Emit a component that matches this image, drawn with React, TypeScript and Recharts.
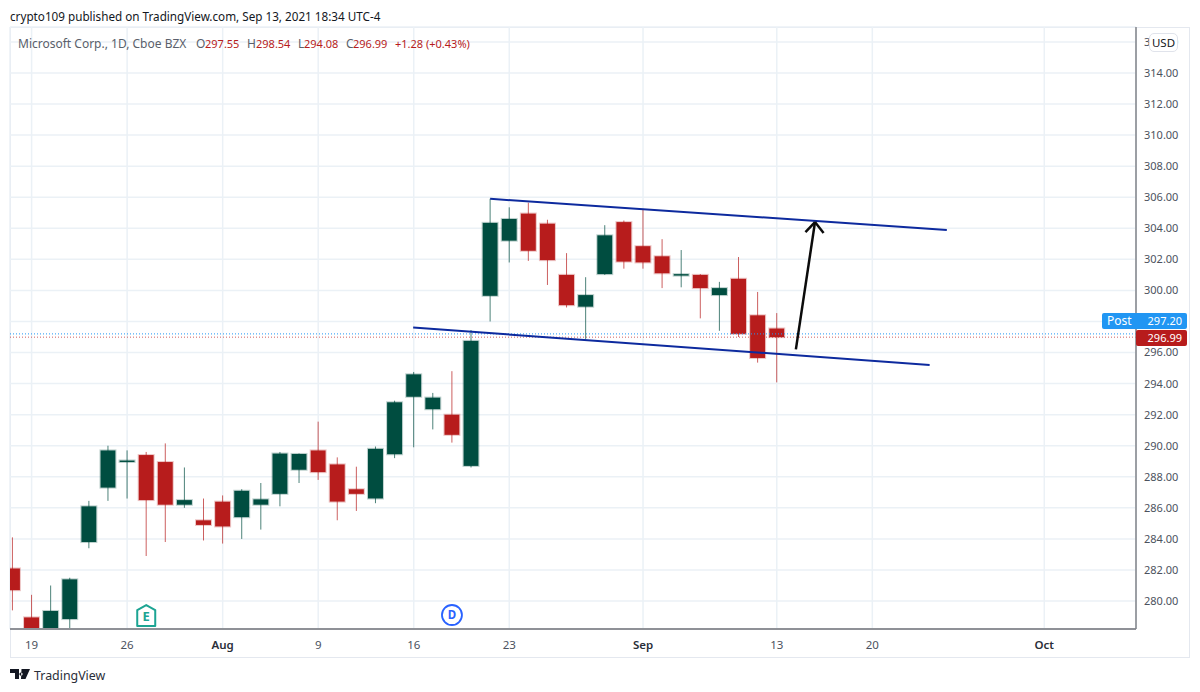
import { ComposedChart, Bar, XAxis, YAxis, CartesianGrid, ReferenceLine, ReferenceDot } from 'recharts';

const dates = ['Jul16','Jul19','Jul20','Jul21','Jul22','Jul23','Jul26','Jul27','Jul28','Jul29','Jul30','Aug2','Aug3','Aug4','Aug5','Aug6','Aug9','Aug10','Aug11','Aug12','Aug13','Aug16','Aug17','Aug18','Aug19','Aug20','Aug23','Aug24','Aug25','Aug26','Aug27','Aug30','Aug31','Sep1','Sep2','Sep3','Sep7','Sep8','Sep9','Sep10','Sep13'];
const opens = [282.1,278.95,277.9,278.84,283.8,287.3,289.0,289.4,288.95,286.2,285.2,286.4,285.4,286.2,286.9,288.45,289.7,288.8,287.2,286.6,289.45,293.15,292.35,292.0,288.7,299.65,303.2,304.95,304.3,301.0,298.95,301.05,304.4,302.85,302.2,300.95,301.0,299.7,300.75,298.4,297.55];
const highs = [284.1,280.4,281.0,281.5,286.45,290.0,289.7,289.6,290.15,288.6,286.6,286.8,287.2,287.6,289.6,289.5,291.55,289.25,288.65,289.95,292.9,294.75,293.4,294.8,297.45,305.9,305.35,305.65,304.55,302.4,300.85,304.2,304.5,305.2,303.3,302.6,301.05,300.55,302.15,299.9,298.54];
const lows = [279.4,277.5,277.4,278.0,283.4,286.45,286.6,282.9,283.8,286.0,283.9,283.7,284.0,284.6,286.1,287.6,287.8,285.2,285.8,286.3,289.2,289.9,291.05,290.2,288.6,298.0,301.8,301.9,300.35,298.9,296.85,301.0,301.4,301.4,300.15,300.2,298.2,297.4,297.0,295.35,294.08];
const closes = [280.7,278.1,279.36,281.4,286.1,289.7,289.05,286.5,286.2,286.5,284.9,284.8,287.1,286.55,289.5,289.47,288.3,286.4,286.9,289.8,292.8,294.6,293.1,290.7,296.75,304.35,304.6,302.55,301.95,299.05,299.7,303.55,301.85,301.8,301.1,301.05,300.15,300.15,297.2,295.65,296.99];

const priceTicks = [280,282,284,286,288,290,292,294,296,298,300,302,304,306,308,310,312,314,316];
const dateTickIndexes = [1,6,11,16,21,26,33,40,45,54];
const dateTickLabels = ['19','26','Aug','9','16','23','Sep','13','20','Oct'];
const boldTickLabels = ['Aug','Sep','Oct'];

const upperChannel = [{ x: 25, y: 305.9 }, { x: 48.9, y: 303.89 }];
const lowerChannel = [{ x: 20.97, y: 297.61 }, { x: 48.0, y: 295.2 }];
const arrowShaft = [{ x: 41.0, y: 296.2 }, { x: 42.0, y: 304.4 }];
const arrowHeadLeft = [{ x: 41.5, y: 303.76 }, { x: 42.0, y: 304.4 }];
const arrowHeadRight = [{ x: 42.45, y: 303.7 }, { x: 42.0, y: 304.4 }];

const lastClose = 296.99;
const postPrice = 297.2;
const earningsIndex = 7;
const dividendIndex = 23;
const eventPrice = 279.1;

const UP = '#004d40';
const DOWN = '#b71c1c';
const FONT = '"Noto Sans", sans-serif';

const candles = dates.map((date, i) => ({
  date,
  index: i,
  open: opens[i],
  high: highs[i],
  low: lows[i],
  close: closes[i],
  range: [lows[i], highs[i]],
}));

const Candle = (props: any) => {
  const { x, y, width, height, payload } = props;
  const k = height / (payload.high - payload.low);
  const top = y + (payload.high - Math.max(payload.open, payload.close)) * k;
  const bottom = y + (payload.high - Math.min(payload.open, payload.close)) * k;
  const color = payload.close >= payload.open ? UP : DOWN;
  const cx = x + width / 2;
  return (
    <g>
      <line x1={cx} x2={cx} y1={y} y2={y + height} stroke={color} strokeWidth={1} strokeOpacity={0.7} />
      <rect x={x - 0.5} y={top - 0.5} width={width + 1} height={Math.max(bottom - top, 1.5) + 1} fill="none" stroke={color} strokeOpacity={0.25} />
      <rect x={x} y={top} width={width} height={Math.max(bottom - top, 1.5)} fill={color} />
    </g>
  );
};

const DateTick = ({ x, y, payload }: any) => {
  const label = dateTickLabels[dateTickIndexes.indexOf(payload.value)];
  const bold = boldTickLabels.includes(label);
  return (
    <text x={x} y={y + 11.5} textAnchor="middle" fontFamily={FONT} fontSize={11.5} fontWeight={bold ? 600 : 400} fill={bold ? '#2a2e39' : '#4c525e'}>
      {label}
    </text>
  );
};

const EarningsMark = ({ cx, cy }: any) => (
  <g>
    <path d={`M${cx - 9} ${cy - 5} L${cx} ${cy - 10} L${cx + 9} ${cy - 5} L${cx + 9} ${cy + 11} L${cx - 9} ${cy + 11} Z`} fill="#fff" stroke="#1ca493" strokeWidth={2} strokeLinejoin="round" />
    <text x={cx} y={cy + 6} textAnchor="middle" fontFamily={FONT} fontSize={13} fontWeight={700} fill="#1ca493">E</text>
  </g>
);

const DividendMark = ({ cx, cy }: any) => (
  <g>
    <circle cx={cx} cy={cy} r={10} fill="#fff" stroke="#2962ff" strokeWidth={1.8} />
    <text x={cx} y={cy + 4} textAnchor="middle" fontFamily={FONT} fontSize={11.5} fontWeight={700} fill="#2962ff">D</text>
  </g>
);

const legendStyle = { position: 'absolute', top: 35, fontSize: 11, whiteSpace: 'nowrap' } as const;

export default function App() {
  return (
    <div style={{ position: 'absolute', left: 0, top: 0, width: 1200, height: 692, background: '#fff', overflow: 'hidden', fontFamily: FONT }}>
      <div style={{ position: 'absolute', left: 10, top: 8, fontSize: 11.7, color: '#131722', whiteSpace: 'nowrap' }}>
        crypto109 published on TradingView.com, Sep 13, 2021 18:34 UTC-4
      </div>
      <div style={{ position: 'absolute', left: 10, top: 27, width: 1178, height: 629, border: '1px solid #e4e8ef' }} />
      <div style={{ position: 'absolute', left: 0, top: 0 }}>
        <ComposedChart width={1200} height={692} data={candles} margin={{ top: 27, right: 11, bottom: 35, left: 10 }}>
          <CartesianGrid stroke="#ebf1f6" strokeWidth={1.5} />
          <XAxis
            dataKey="index"
            type="number"
            domain={[-0.13, 58.8]}
            allowDataOverflow
            ticks={dateTickIndexes}
            interval={0}
            height={28}
            stroke="#8f9197"
            strokeWidth={2}
            tickLine={false}
            tick={<DateTick />}
          />
          <YAxis
            orientation="right"
            type="number"
            domain={[278.2, 316.96]}
            allowDataOverflow
            ticks={priceTicks}
            interval={0}
            width={53}
            stroke="#808389"
            strokeWidth={1.5}
            tickLine={false}
            tickMargin={2}
            tickFormatter={(v: number) => v.toFixed(2)}
            tick={{ fill: '#4c525e', fontSize: 11, fontFamily: FONT }}
          />
          <ReferenceLine y={postPrice} stroke="#2196f3" strokeDasharray="1 2" />
          <ReferenceLine y={lastClose} stroke={DOWN} strokeOpacity={0.7} strokeDasharray="1 2" />
          <Bar dataKey="range" barSize={15} shape={<Candle />} isAnimationActive={false} />
          <ReferenceLine segment={upperChannel} stroke="#0d2a9e" strokeWidth={2} />
          <ReferenceLine segment={lowerChannel} stroke="#0d2a9e" strokeWidth={2} />
          <ReferenceLine segment={arrowShaft} stroke="#0b0b0b" strokeWidth={2.5} />
          <ReferenceLine segment={arrowHeadLeft} stroke="#0b0b0b" strokeWidth={2.5} />
          <ReferenceLine segment={arrowHeadRight} stroke="#0b0b0b" strokeWidth={2.5} />
          <ReferenceDot x={earningsIndex} y={eventPrice} shape={<EarningsMark />} />
          <ReferenceDot x={dividendIndex} y={eventPrice} shape={<DividendMark />} />
        </ComposedChart>
      </div>
      <div style={{ ...legendStyle, left: 18, fontSize: 12, color: '#5a5f6b' }}>Microsoft Corp., 1D, Cboe BZX</div>
      <div style={{ ...legendStyle, left: 196, fontSize: 12, color: '#5a5f6b' }}>O</div>
      <div style={{ ...legendStyle, left: 205, top: 36, color: DOWN }}>297.55</div>
      <div style={{ ...legendStyle, left: 247, fontSize: 12, color: '#5a5f6b' }}>H</div>
      <div style={{ ...legendStyle, left: 256, top: 36, color: DOWN }}>298.54</div>
      <div style={{ ...legendStyle, left: 298, fontSize: 12, color: '#5a5f6b' }}>L</div>
      <div style={{ ...legendStyle, left: 304, top: 36, color: DOWN }}>294.08</div>
      <div style={{ ...legendStyle, left: 346, fontSize: 12, color: '#5a5f6b' }}>C</div>
      <div style={{ ...legendStyle, left: 353, top: 36, color: DOWN }}>296.99</div>
      <div style={{ ...legendStyle, left: 395, top: 36, color: DOWN }}>+1.28 (+0.43%)</div>
      <div style={{ position: 'absolute', left: 1149, top: 33, width: 27, height: 17, border: '1px solid #e0e3eb', borderRadius: 5, background: '#fff', fontSize: 11.5, lineHeight: '17px', textAlign: 'center', color: '#131722' }}>USD</div>
      <div style={{ position: 'absolute', left: 1102, top: 313, width: 85, height: 16, background: '#2196f3', borderRadius: 2, color: '#fff', fontSize: 11, lineHeight: '16px' }}>
        <span style={{ position: 'absolute', left: 5, fontSize: 12 }}>Post</span>
        <span style={{ position: 'absolute', right: 5 }}>297.20</span>
      </div>
      <div style={{ position: 'absolute', left: 1136, top: 330, width: 51, height: 16, background: DOWN, borderRadius: 2, color: '#fff', fontSize: 11, lineHeight: '16px', textAlign: 'right' }}>
        <span style={{ marginRight: 5 }}>296.99</span>
      </div>
      <svg style={{ position: 'absolute', left: 10, top: 669 }} width={20} height={11} viewBox="0 0 20 11">
        <path d="M0 0H9V10H5V4H0Z M11.5 0H20L15.5 10H11Z M11 3.5a1.6 1.6 0 1 0 0.01 0Z" fill="#131722" />
      </svg>
      <div style={{ position: 'absolute', left: 34, top: 667, fontSize: 12.4, color: '#2a2e39', whiteSpace: 'nowrap' }}>TradingView</div>
    </div>
  );
}
